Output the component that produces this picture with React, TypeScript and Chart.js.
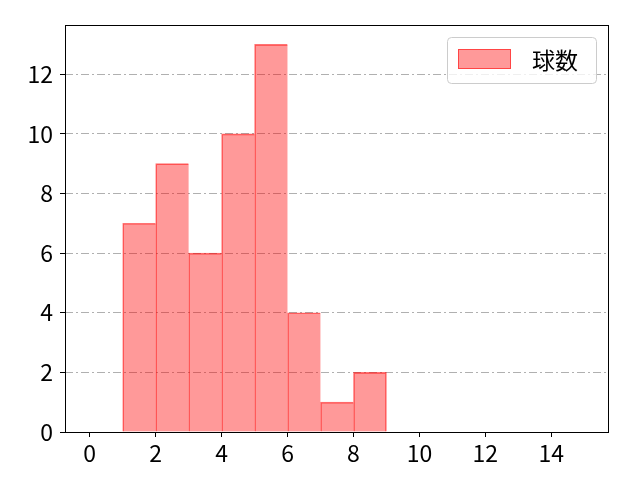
import { useEffect, useRef } from "react";
import { Chart, registerables } from "chart.js";

Chart.register(...registerables);

const binCenters = [1.5, 2.5, 3.5, 4.5, 5.5, 6.5, 7.5, 8.5];
const pitchCounts = [7, 9, 6, 10, 13, 4, 1, 2];
const xTicks = [0, 2, 4, 6, 8, 10, 12, 14];
const yTicks = [0, 2, 4, 6, 8, 10, 12];
const seriesLabel = "球数";

const FONT = "'Noto Sans CJK JP', 'DejaVu Sans', sans-serif";
const fill = "rgba(255, 0, 0, 0.4)";
const edge = "rgba(255, 0, 0, 0.55)";

// frame + boxed legend, drawn on top like matplotlib
const framePlugin = {
  id: "frameLegend",
  afterDraw(chart: Chart) {
    const { ctx, chartArea } = chart;
    const { left, top, right, bottom } = chartArea;
    ctx.save();
    ctx.strokeStyle = "#000";
    ctx.lineWidth = 1;
    ctx.strokeRect(left + 0.5, top + 0.5, right - left - 1, bottom - top);

    // legend box
    const bx = 447, by = 37, bw = 149, bh = 46, r = 4;
    ctx.beginPath();
    ctx.roundRect(bx + 0.5, by + 0.5, bw, bh, r);
    ctx.fillStyle = "rgba(255,255,255,0.8)";
    ctx.fill();
    ctx.strokeStyle = "#cccccc";
    ctx.stroke();

    ctx.fillStyle = fill;
    ctx.fillRect(458, 49, 53, 20);
    ctx.strokeStyle = edge;
    ctx.strokeRect(458.5, 49.5, 52, 19);

    ctx.fillStyle = "#000";
    ctx.font = `23px ${FONT}`;
    ctx.textBaseline = "middle";
    ctx.textAlign = "left";
    ctx.fillText(seriesLabel, 532, 60);
    ctx.restore();
  },
};

export default function App() {
  const canvasRef = useRef<HTMLCanvasElement>(null);
  const chartRef = useRef<Chart | null>(null);

  useEffect(() => {
    document.body.style.margin = "0";
    if (!canvasRef.current) return;
    if (chartRef.current) chartRef.current.destroy();
    const ctx = canvasRef.current.getContext("2d");
    if (!ctx) return;

    const last = pitchCounts.length - 1;

    chartRef.current = new Chart(ctx, {
      type: "bar",
      data: {
        datasets: [
          {
            label: seriesLabel,
            data: binCenters.map((x, i) => ({ x, y: pitchCounts[i] })),
            backgroundColor: fill,
            borderColor: edge,
            // single edge between neighbouring bins
            borderWidth: (c: any) => ({
              left: 1,
              top: 1,
              right: c.dataIndex === last ? 1 : 0,
              bottom: 0,
            }),
            borderSkipped: false,
            barPercentage: 1,
            categoryPercentage: 1,
          },
        ],
      },
      options: {
        responsive: false,
        animation: false,
        layout: { padding: { top: 25, right: 31, left: 0, bottom: 0 } },
        plugins: {
          legend: { display: false },
          tooltip: { enabled: false },
        },
        scales: {
          x: {
            type: "linear",
            min: -0.75,
            max: 15.75,
            offset: false,
            afterBuildTicks: (scale) => {
              scale.ticks = xTicks.map((value) => ({ value }));
            },
            afterFit: (scale) => {
              scale.height = 48;
            },
            grid: {
              offset: false,
              drawOnChartArea: false,
              tickLength: 5,
              tickColor: "#000",
            },
            border: { display: false },
            ticks: {
              color: "#000",
              padding: 2,
              autoSkip: false,
              maxRotation: 0,
              font: { family: FONT, size: 23 },
            },
          },
          y: {
            min: 0,
            max: 13.65,
            z: 1,
            afterBuildTicks: (scale) => {
              scale.ticks = yTicks.map((value) => ({ value }));
            },
            afterFit: (scale) => {
              scale.width = 65;
            },
            grid: {
              color: "#b0b0b0",
              lineWidth: 1,
              tickLength: 5,
              tickColor: "#000",
              tickBorderDash: [],
            },
            border: { display: false, dash: [8, 3, 2, 3] },
            ticks: {
              color: "#000",
              padding: 7,
              autoSkip: false,
              font: { family: FONT, size: 23 },
            },
          },
        },
      },
      plugins: [framePlugin],
    });

    return () => {
      if (chartRef.current) {
        chartRef.current.destroy();
        chartRef.current = null;
      }
    };
  }, []);

  return (
    <div style={{ width: 640, height: 480 }}>
      <canvas ref={canvasRef} width={640} height={480}></canvas>
    </div>
  );
}
